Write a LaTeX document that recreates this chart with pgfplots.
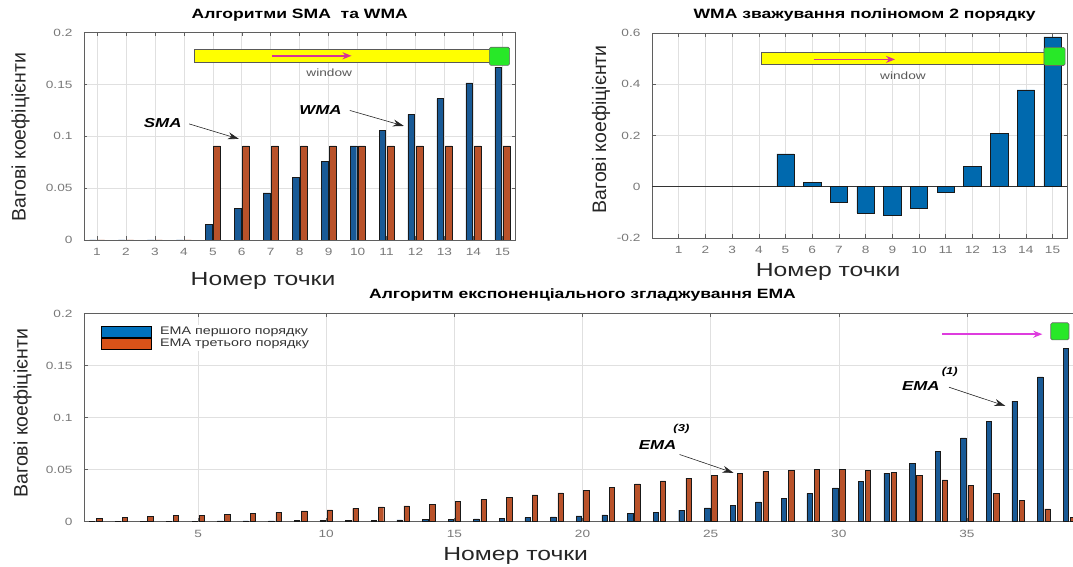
\documentclass[border=0pt]{standalone}
\usepackage{fontspec}
\setmainfont{Liberation Sans}
\newfontfamily\wide{Liberation Sans}[FakeStretch=1.3]
\usepackage{pgfplots}
\pgfplotsset{compat=1.18}
\usetikzlibrary{arrows.meta}
\definecolor{mblue}{RGB}{0,114,189}
\definecolor{morange}{RGB}{217,83,25}
\definecolor{tblue}{RGB}{25,90,150}
\definecolor{torange}{RGB}{185,82,42}
\definecolor{mgreen}{RGB}{40,232,40}
\definecolor{myellow}{RGB}{255,255,0}
\definecolor{mmag}{RGB}{214,51,150}
\definecolor{mmag2}{RGB}{222,60,222}
\definecolor{gridc}{RGB}{224,224,224}
\definecolor{framec}{RGB}{95,95,95}
\definecolor{tickc}{RGB}{120,120,120}
\tikzset{blk/.style={black!85, line width=0.6pt, -{Stealth[length=11pt,width=7pt]}}}
\pgfplotsset{
 mat/.style={
  scale only axis, anchor=south west,
  axis line style={draw=framec, line width=0.6pt},
  every tick/.style={draw=framec, line width=0.5pt},
  major tick length=3.5pt, tick align=inside,
  xmajorgrids, ymajorgrids,
  major grid style={draw=gridc, line width=0.6pt},
  /pgf/number format/assume math mode=true,
  ticklabel style={font=\wide\fontsize{10.5}{12}\selectfont, text=tickc},
  xticklabel style={yshift=-5pt},
  yticklabel style={xshift=-8pt},
  title style={font=\wide\bfseries\fontsize{13.5}{16}\selectfont, anchor=center, yshift=12pt},
  xlabel style={font=\wide\fontsize{19}{22}\selectfont, text=black!85, anchor=center},
  ylabel style={font=\fontsize{19.5}{22}\selectfont, text=black!85, anchor=center},
 },
 bl/.style={ybar, bar width=#1, fill=tblue, draw=black!90, line width=0.45pt},
 og/.style={ybar, bar width=#1, fill=torange, draw=black!90, line width=0.45pt},
}
\begin{document}
\begin{tikzpicture}[x=1pt,y=1pt]
\useasboundingbox (0,0) rectangle (1073,567);
% ---------------- top left ----------------
\begin{axis}[mat, at={(84pt,327pt)}, width=431.4pt, height=207.3pt,
  xmin=0.55, xmax=15.45, ymin=0, ymax=0.2,
  xtick={1,...,15}, ytick={0,0.05,0.1,0.15,0.2}, yticklabels={0,0.05,0.1,0.15,0.2},
  title={Алгоритми SMA\ \ та WMA},
  xlabel={Номер точки}, xlabel style={at={(0.415,0)}, yshift=-40.6pt},
  ylabel={Вагові коефіцієнти}, ylabel style={at={(-0.147,0.497)}}]
\addplot[bl=0.23, bar shift=-0.145] coordinates {
 (1,0) (2,0) (3,0) (4,0) (5,0.0152) (6,0.0303) (7,0.0455) (8,0.0606) (9,0.0758)
 (10,0.0909) (11,0.1061) (12,0.1212) (13,0.1364) (14,0.1515) (15,0.1667)};
\addplot[og=0.23, bar shift=0.145] coordinates {
 (1,0) (2,0) (3,0) (4,0) (5,0.0909) (6,0.0909) (7,0.0909) (8,0.0909) (9,0.0909)
 (10,0.0909) (11,0.0909) (12,0.0909) (13,0.0909) (14,0.0909) (15,0.0909)};
\draw[fill=myellow, draw=black!65, line width=0.6pt] (axis cs:4.35,0.171) rectangle (axis cs:15.0,0.1835);
\draw[fill=mgreen, draw=black!60, line width=0.6pt, rounded corners=1.5pt] (axis cs:14.55,0.1685) rectangle (axis cs:15.25,0.186);
\draw[mmag, line width=1.5pt, -{Stealth[length=9pt,width=7pt]}] (axis cs:7.06,0.1777) -- (axis cs:9.79,0.1777);
\node[font=\wide\fontsize{10.5}{12}\selectfont, text=black!65] at (axis cs:9.02,0.161) {window};
\node[font=\wide\bfseries\itshape\fontsize{13}{15}\selectfont] at (axis cs:3.27,0.113) {SMA};
\draw[blk] (axis cs:4.18,0.112) -- (axis cs:5.9,0.0975);
\node[font=\wide\bfseries\itshape\fontsize{13}{15}\selectfont] at (axis cs:8.72,0.125) {WMA};
\draw[blk] (axis cs:9.73,0.125) -- (axis cs:11.6,0.110);
\end{axis}
% ---------------- top right ----------------
\begin{axis}[mat, at={(652pt,329pt)}, width=415.2pt, height=205pt,
  xmin=0, xmax=15.55, ymin=-0.2, ymax=0.6,
  xtick={1,...,15}, ytick={-0.2,0,0.2,0.4,0.6}, yticklabels={-0.2,0,0.2,0.4,0.6},
  title={WMA зважування поліномом 2 порядку}, title style={xshift=5pt},
  xlabel={Номер точки}, xlabel style={at={(0.424,0)}, yshift=-34pt},
  ylabel={Вагові коефіцієнти}, ylabel style={at={(-0.1228,0.53)}}]
\draw[black!80, line width=0.7pt] (axis cs:0,0) -- (axis cs:15.55,0);
\addplot[ybar, bar width=0.65, bar shift=0pt, fill=mblue!92!black, draw=black!90, line width=0.6pt] coordinates {
 (5,0.128) (6,0.016) (7,-0.060) (8,-0.102) (9,-0.111) (10,-0.083)
 (11,-0.021) (12,0.078) (13,0.209) (14,0.378) (15,0.585)};
\draw[fill=myellow, draw=black!65, line width=0.6pt] (axis cs:4.08,0.477) rectangle (axis cs:15.2,0.526);
\draw[fill=mgreen, draw=black!60, line width=0.6pt, rounded corners=1.5pt] (axis cs:14.68,0.473) rectangle (axis cs:15.47,0.544);
\draw[mmag, line width=1.5pt, -{Stealth[length=9pt,width=7pt]}] (axis cs:6.05,0.497) -- (axis cs:9.1,0.497);
\node[font=\wide\fontsize{10.5}{12}\selectfont, text=black!65] at (axis cs:9.4,0.432) {window};
\end{axis}
% ---------------- bottom ----------------
\begin{axis}[mat, at={(84pt,45.6pt)}, width=997pt, height=208pt,
  xmin=0.55, xmax=39.45, ymin=0, ymax=0.2,
  xtick={5,10,...,35}, ytick={0,0.05,0.1,0.15,0.2}, yticklabels={0,0.05,0.1,0.15,0.2},
  title={Алгоритм експоненціального згладжування EMA},
  xlabel={Номер точки}, xlabel style={at={(0.433,0)}, yshift=-35pt},
  ylabel={Вагові коефіцієнти}, ylabel style={at={(-0.0616,0.52)}},
  legend style={at={(0.016,0.946)}, anchor=north west, draw=none, fill=white,
    font=\wide\fontsize{11}{12}\selectfont, text=black!80, row sep=0pt, inner sep=1pt,
    nodes={inner sep=1.5pt}},
  legend cell align=left]
\addplot[bl=0.21, bar shift=-0.14, legend image code/.code={\draw[fill=mblue, draw=black, line width=0.5pt] (0pt,-5pt) rectangle (50pt,5.5pt); \path (57pt,0pt);}] coordinates {
 (1,0.0002) (2,0.0002) (3,0.0002) (4,0.0003) (5,0.0003) (6,0.0004) (7,0.0005) (8,0.0006)
 (9,0.0007) (10,0.0008) (11,0.0010) (12,0.0012) (13,0.0015) (14,0.0017) (15,0.0021)
 (16,0.0025) (17,0.0030) (18,0.0036) (19,0.0043) (20,0.0052) (21,0.0063) (22,0.0075)
 (23,0.0090) (24,0.0108) (25,0.0130) (26,0.0156) (27,0.0187) (28,0.0224) (29,0.0269)
 (30,0.0323) (31,0.0388) (32,0.0465) (33,0.0558) (34,0.0670) (35,0.0804) (36,0.0965)
 (37,0.1157) (38,0.1389) (39,0.1667)};
\addplot[og=0.21, bar shift=0.14, legend image code/.code={\draw[fill=morange, draw=black, line width=0.5pt] (0pt,-5pt) rectangle (50pt,5.5pt); \path (57pt,0pt);}] coordinates {
 (1,0.003) (2,0.004) (3,0.005) (4,0.0055) (5,0.006) (6,0.007) (7,0.008) (8,0.009)
 (9,0.010) (10,0.011) (11,0.0125) (12,0.014) (13,0.015) (14,0.0165) (15,0.019)
 (16,0.021) (17,0.023) (18,0.0255) (19,0.0275) (20,0.030) (21,0.033) (22,0.036)
 (23,0.039) (24,0.0415) (25,0.044) (26,0.046) (27,0.048) (28,0.049) (29,0.050)
 (30,0.050) (31,0.049) (32,0.047) (33,0.044) (34,0.040) (35,0.0345) (36,0.027)
 (37,0.020) (38,0.012) (39,0.004)};
\legend{EMA першого порядку, EMA третього порядку}
\draw[mmag2, line width=1.5pt, -{Stealth[length=9pt,width=7pt]}] (axis cs:34.04,0.18) -- (axis cs:37.94,0.18);
\draw[fill=mgreen, draw=black!60, line width=0.6pt, rounded corners=1.5pt] (axis cs:38.27,0.1745) rectangle (axis cs:38.98,0.191);
\node[font=\wide\bfseries\itshape\fontsize{13}{15}\selectfont] at (axis cs:33.2,0.13) {EMA};
\node[font=\wide\bfseries\itshape\fontsize{10}{12}\selectfont] at (axis cs:34.33,0.1437) {(1)};
\draw[blk] (axis cs:34.3,0.129) -- (axis cs:36.5,0.111);
\node[font=\wide\bfseries\itshape\fontsize{13}{15}\selectfont] at (axis cs:22.93,0.0737) {EMA};
\node[font=\wide\bfseries\itshape\fontsize{10}{12}\selectfont] at (axis cs:23.86,0.0893) {(3)};
\draw[blk] (axis cs:23.79,0.0643) -- (axis cs:25.89,0.0467);
\end{axis}
\end{tikzpicture}
\end{document}
